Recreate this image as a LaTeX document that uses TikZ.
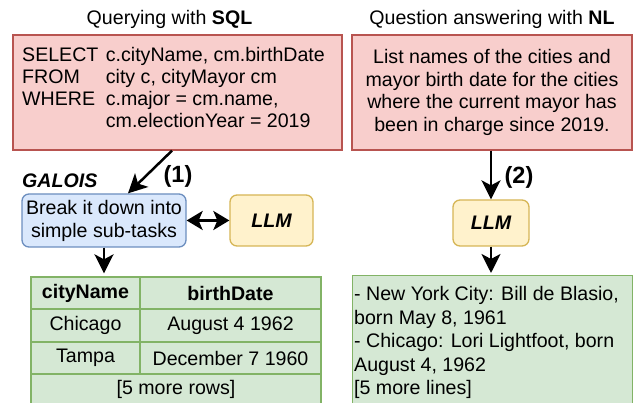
\documentclass[tikz,border=0pt]{standalone}
\usepackage{fontspec}
\setmainfont{Liberation Sans}
\usetikzlibrary{arrows.meta,calc}
\definecolor{redfill}{HTML}{F8CECC}
\definecolor{redline}{HTML}{B85450}
\definecolor{bluefill}{HTML}{DAE8FC}
\definecolor{blueline}{HTML}{6C8EBF}
\definecolor{yelfill}{HTML}{FFF2CC}
\definecolor{yelline}{HTML}{D6B656}
\definecolor{grnfill}{HTML}{D5E8D4}
\definecolor{grnline}{HTML}{82B366}
\begin{document}
\begin{tikzpicture}[x=1pt,y=-1pt,
  every node/.style={font=\fontsize{19.6}{23}\selectfont, inner sep=0pt},
  redbox/.style={draw=redline, fill=redfill, line width=1.3pt},
  bluebox/.style={draw=blueline, fill=bluefill, line width=1.3pt, rounded corners=7pt, align=center},
  llmbox/.style={draw=yelline, fill=yelfill, line width=1.3pt, rounded corners=7pt, font=\fontsize{19.6}{23}\selectfont\bfseries\itshape},
  cell/.style={draw=grnline, fill=grnfill, line width=1.3pt},
  arr/.style={line width=2.5pt, -{Stealth[length=19pt,width=19pt,inset=5pt]}},
  dblarr/.style={line width=2.5pt, {Stealth[length=16pt,width=19pt,inset=4pt]}-{Stealth[length=16pt,width=19pt,inset=4pt]}},
  lbl/.style={font=\fontsize{23.5}{26}\selectfont\bfseries}]
\useasboundingbox (0,0) rectangle (633,403);
\clip (0,0) rectangle (633,403);
\fill[white] (0,0) rectangle (633,403);
% titles
\node (title1) at (169.5,19) {Querying with \textbf{SQL}};
\node (title2) at (492,19) {Question answering with \textbf{NL}};
% query boxes
\node[redbox, minimum width=329pt, minimum height=115pt] (sqlbox) at (177.5,92.5) {};
\node[anchor=base west, align=left, font=\fontsize{19.6}{22}\selectfont] (sqltext) at (22,128)
  {\makebox[83.7pt][l]{SELECT}c.cityName, cm.birthDate\\
   \makebox[83.7pt][l]{FROM}city c, cityMayor cm\\
   \makebox[83.7pt][l]{WHERE}c.major = cm.name,\\
   \makebox[83.7pt][l]{}cm.electionYear = 2019};
\node[redbox, minimum width=280pt, minimum height=115pt, align=center, font=\fontsize{19.6}{22.7}\selectfont] (nlbox) at (492,92.5)
  {List names of the cities and\\mayor birth date for the cities\\where the current mayor has\\been in charge since 2019.};
% left pipeline
\node[anchor=west, font=\fontsize{19.6}{23}\selectfont\bfseries\itshape] (galois) at (22,181) {GALOIS};
\node[bluebox, minimum width=164pt, minimum height=53pt] (blue) at (104,220.5) {Break it down into\\simple sub-tasks};
\node[llmbox, minimum width=83pt, minimum height=51pt] (llm1) at (271.5,220.5) {LLM};
\node[lbl] (lbl1) at (178,176) {(1)};
% table
\node[cell, minimum width=109pt, minimum height=32pt] (c11) at (85.5,293) {\textbf{cityName}};
\node[cell, minimum width=181pt, minimum height=32pt] (c12) at (230.5,293) {\textbf{birthDate}};
\node[cell, minimum width=109pt, minimum height=33pt] (c21) at (85.5,325.5) {Chicago};
\node[cell, minimum width=181pt, minimum height=33pt] (c22) at (230.5,325.5) {August 4 1962};
\node[cell, minimum width=109pt, minimum height=32pt] (c31) at (85.5,358) {Tampa};
\node[cell, minimum width=181pt, minimum height=32pt] (c32) at (230.5,358) {December 7 1960};
\node[cell, minimum width=290pt, minimum height=30pt] (c41) at (176,389) {[5 more rows]};
% right pipeline
\node[llmbox, minimum width=76pt, minimum height=46pt] (llm2) at (491,223) {LLM};
\node[lbl] (lbl2) at (519,177) {(2)};
\node[cell, anchor=north west, minimum width=280pt, minimum height=140pt] (green) at (352,275) {};
\node[anchor=base west, align=left, font=\fontsize{19.6}{23.5}\selectfont] (greentext) at (354,394.7)
  {- New York City: Bill de Blasio,\\born May 8, 1961\\- Chicago: Lori Lightfoot, born\\August 4, 1962\\{[5 more lines]}};
% connectors
\draw[arr] ([xshift=-5.5pt]sqlbox.south) -- ([xshift=24pt]blue.north);
\draw[dblarr] (blue.east) -- (llm1.west);
\draw[arr] (blue.south) -- ([yshift=3pt]blue.south |- c11.north);
\draw[arr] (llm2.north |- nlbox.south) -- (llm2.north);
\draw[arr] (llm2.south) -- ([yshift=2pt]llm2.south |- green.north);
\end{tikzpicture}
\end{document}
